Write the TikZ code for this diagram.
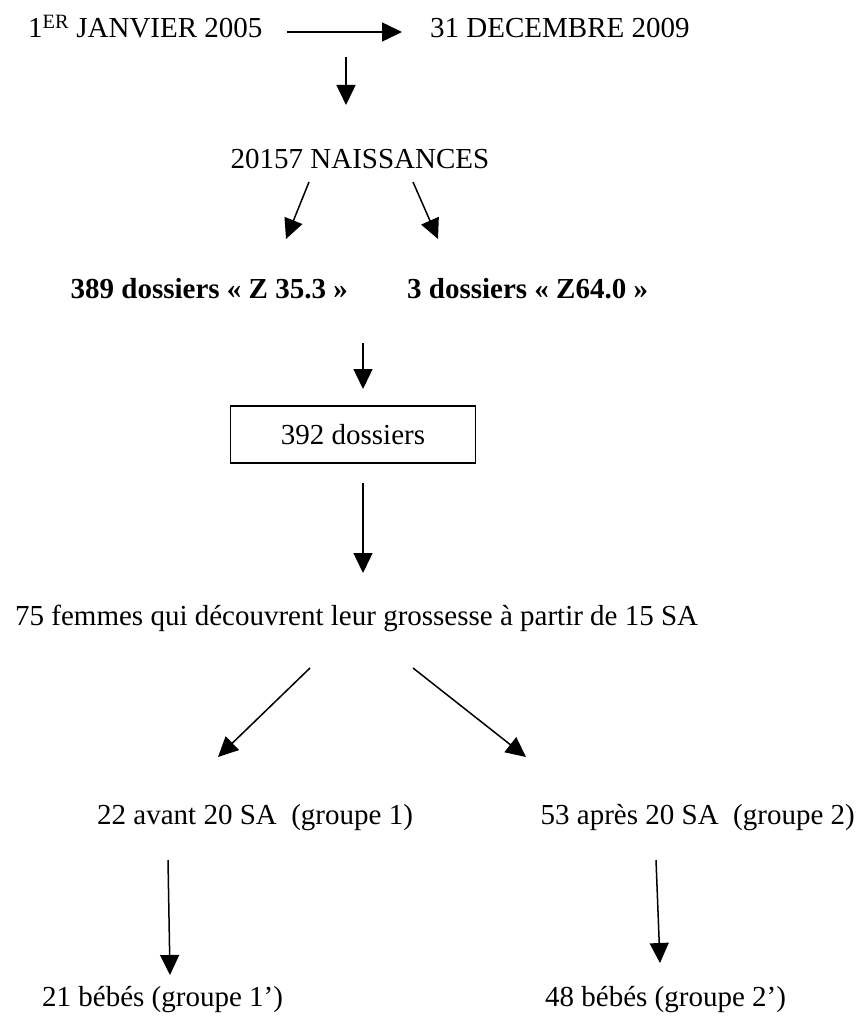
\documentclass[tikz,border=0pt]{standalone}
\usepackage{fontspec}
\setmainfont{Liberation Serif}
\usetikzlibrary{arrows.meta}
\tikzset{
  txt/.style={inner sep=0pt, font=\fontsize{29}{34}\selectfont},
  bld/.style={txt, font=\fontsize{29}{34}\selectfont\bfseries},
  arr/.style={line width=1.5pt, -{Triangle[length=20pt,width=19pt]}},
  boxed/.style={draw, line width=1.3pt, minimum width=245pt, minimum height=57pt, font=\fontsize{29}{34}\selectfont}
}
\begin{document}
\begin{tikzpicture}[x=1pt,y=-1pt]
\useasboundingbox (0,0) rectangle (858,1027);
% texts
\node[txt, anchor=base west] (start) at (28,38) {1\textsuperscript{ER} JANVIER 2005};
\node[txt, anchor=base west] (end) at (430,38) {31 DECEMBRE 2009};
\node[txt, anchor=base] (naiss) at (360,168) {20157 NAISSANCES};
\node[bld, anchor=base east] (z35) at (348,298) {389 dossiers «~Z 35.3~»};
\node[bld, anchor=base west] (z64) at (407,298) {3 dossiers «~Z64.0~»};
\node[boxed] (d392) at (353,434.5) {392 dossiers};
\node[txt, anchor=base west] (femmes) at (15,625) {75 femmes qui découvrent leur grossesse à partir de 15 SA};
\node[txt, anchor=base west] (g1) at (97,824) {22 avant 20 SA\ \ (groupe 1)};
\node[txt, anchor=base east] (g2) at (855,824) {53 après 20 SA\ \ (groupe 2)};
\node[txt, anchor=base west] (b1) at (42,1006) {21 bébés (groupe 1’)};
\node[txt, anchor=base west] (b2) at (545,1006) {48 bébés (groupe 2’)};
% arrow end points
\coordinate (h1) at (287,32);  \coordinate (h2) at (402,32);
\coordinate (v1a) at (346,57); \coordinate (v1b) at (346,105);
\coordinate (l1a) at (309,182); \coordinate (l1b) at (286,239);
\coordinate (r1a) at (413,182); \coordinate (r1b) at (438,239);
\coordinate (v2a) at (363,343); \coordinate (v2b) at (363,389);
\coordinate (v3a) at (363,483); \coordinate (v3b) at (363,573);
\coordinate (l2a) at (310,668); \coordinate (l2b) at (218,757);
\coordinate (r2a) at (413,668); \coordinate (r2b) at (526,757);
\coordinate (v4a) at (168,860); \coordinate (v4b) at (170,975);
\coordinate (v5a) at (656,860); \coordinate (v5b) at (660,963);
% arrows
\draw[arr] (h1) -- (h2);
\draw[arr] (v1a) -- (v1b);
\draw[arr] (l1a) -- (l1b);
\draw[arr] (r1a) -- (r1b);
\draw[arr] (v2a) -- (v2b);
\draw[arr] (v3a) -- (v3b);
\draw[arr] (l2a) -- (l2b);
\draw[arr] (r2a) -- (r2b);
\draw[arr] (v4a) -- (v4b);
\draw[arr] (v5a) -- (v5b);
\end{tikzpicture}
\end{document}
